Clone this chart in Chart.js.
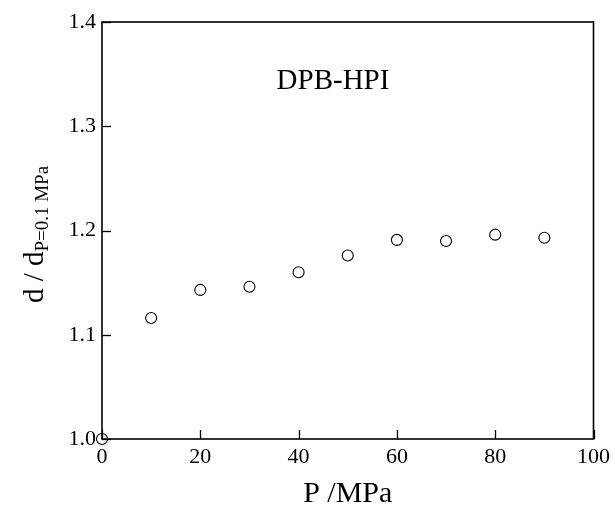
<!DOCTYPE html>
<html>
<head>
<meta charset="utf-8">
<script src="https://cdn.jsdelivr.net/npm/chart.js@4"></script>
<style>
  html, body { margin: 0; padding: 0; background: #fff; }
  #wrap { width: 615px; height: 509px; position: relative; }
</style>
</head>
<body>
<div id="wrap"><canvas id="chart"></canvas></div>
<script>
const PRESSURE = [0, 10, 20, 30, 40, 50, 60, 70, 80, 90];
const RATIO = [1.000, 1.116, 1.143, 1.146, 1.160, 1.176, 1.191, 1.190, 1.196, 1.193];
const X_TICKS = [0, 20, 40, 60, 80, 100];
const Y_TICKS = [1.0, 1.1, 1.2, 1.3, 1.4];

const SERIF = '"Liberation Serif", "Times New Roman", serif';
const INK = '#000';

// frame + inward ticks on the bottom and left axes
const framePlugin = {
  id: 'frame',
  afterDraw: (chart) => {
    const {ctx, chartArea: a, scales} = chart;
    ctx.save();
    ctx.strokeStyle = INK;
    ctx.lineWidth = 1.3;
    scales.x.ticks.forEach(t => {
      const px = Math.round(scales.x.getPixelForValue(t.value)) + 0.5;
      ctx.beginPath();
      ctx.moveTo(px, a.bottom);
      ctx.lineTo(px, a.bottom - 9);
      ctx.stroke();
    });
    scales.y.ticks.forEach(t => {
      const py = Math.round(scales.y.getPixelForValue(t.value)) + 0.5;
      ctx.beginPath();
      ctx.moveTo(a.left, py);
      ctx.lineTo(a.left + 9, py);
      ctx.stroke();
    });
    ctx.lineWidth = 1.6;
    ctx.strokeRect(a.left, a.top, a.right - a.left, a.bottom - a.top);
    ctx.restore();
  }
};

// sample label and y title with subscript
const labelPlugin = {
  id: 'labels',
  afterDraw: (chart) => {
    const {ctx, chartArea: a, scales} = chart;
    ctx.save();
    ctx.fillStyle = INK;
    ctx.font = '29px ' + SERIF;
    ctx.textAlign = 'center';
    ctx.textBaseline = 'alphabetic';
    ctx.fillText('DPB-HPI', scales.x.getPixelForValue(47), scales.y.getPixelForValue(1.336));

    const main = 'd / d';
    const sub = 'P=0.1 MPa';
    ctx.textAlign = 'left';
    ctx.font = '29px ' + SERIF;
    const w1 = ctx.measureText(main).width;
    ctx.font = '19px ' + SERIF;
    const w2 = ctx.measureText(sub).width;
    const total = w1 + w2;
    ctx.translate(43, (a.top + a.bottom) / 2 + 4);
    ctx.rotate(-Math.PI / 2);
    ctx.font = '29px ' + SERIF;
    ctx.fillText(main, -total / 2, 0);
    ctx.font = '19px ' + SERIF;
    ctx.fillText(sub, -total / 2 + w1, 5);
    ctx.restore();
  }
};

const data = {
  datasets: [{
    label: 'DPB-HPI',
    data: PRESSURE.map((p, i) => ({x: p, y: RATIO[i]})),
    showLine: false,
    clip: false,
    pointStyle: 'circle',
    pointRadius: 5.5,
    pointHoverRadius: 5.5,
    pointBorderWidth: 1.1,
    pointBorderColor: INK,
    pointBackgroundColor: 'rgba(255,255,255,0)'
  }]
};

const config = {
  type: 'scatter',
  data: data,
  options: {
    responsive: false,
    animation: false,
    devicePixelRatio: 1,
    layout: { padding: { top: 22, right: 19, bottom: 0, left: 0 } },
    plugins: {
      legend: { display: false },
      tooltip: { enabled: false }
    },
    scales: {
      x: {
        type: 'linear',
        min: 0,
        max: 100,
        afterBuildTicks: (scale) => { scale.ticks = X_TICKS.map(v => ({value: v})); },
        afterFit: (scale) => { scale.height = 70; },
        grid: { display: false, drawTicks: false },
        border: { display: false },
        ticks: {
          padding: 5,
          color: INK,
          font: { family: SERIF, size: 22 },
          maxRotation: 0,
          callback: v => String(v)
        },
        title: {
          display: true,
          text: 'P /MPa',
          color: INK,
          font: { family: SERIF, size: 30, lineHeight: 1 },
          padding: { top: 0, bottom: 0 }
        }
      },
      y: {
        type: 'linear',
        min: 1.0,
        max: 1.4,
        afterBuildTicks: (scale) => { scale.ticks = Y_TICKS.map(v => ({value: v})); },
        afterFit: (scale) => { scale.width = 102; },
        grid: { display: false, drawTicks: false },
        border: { display: false },
        ticks: {
          padding: 6,
          color: INK,
          font: { family: SERIF, size: 22 },
          callback: v => Number(v).toFixed(1)
        }
      }
    }
  },
  plugins: [framePlugin, labelPlugin]
};

const canvas = document.getElementById('chart');
canvas.width = 615;
canvas.height = 509;
new Chart(canvas, config);
</script>
</body>
</html>
